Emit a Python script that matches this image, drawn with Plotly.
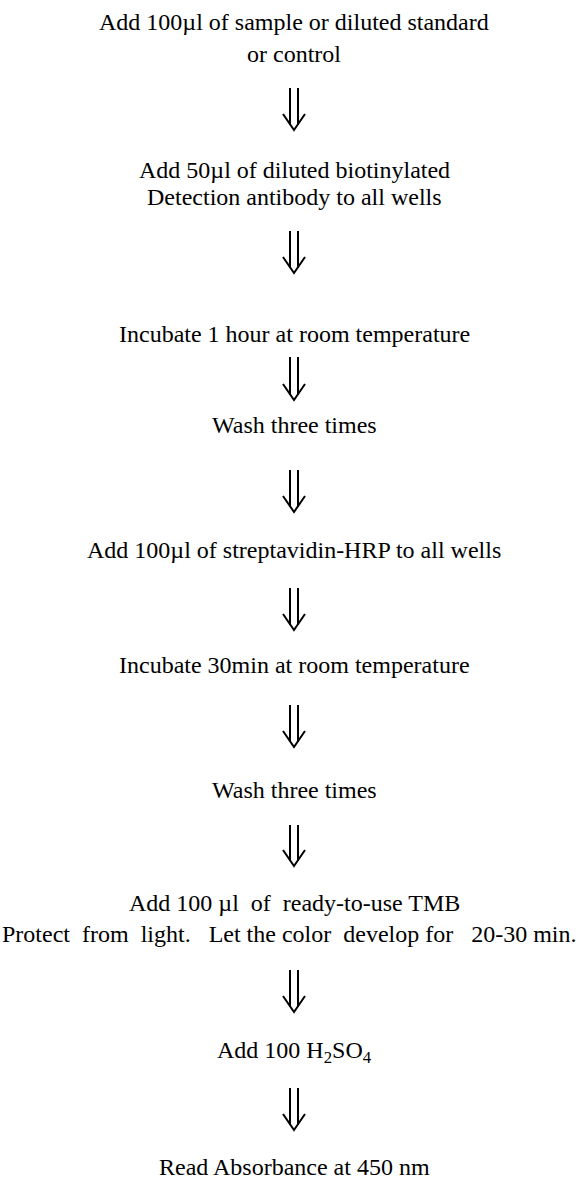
import plotly.graph_objects as go

# Flowchart steps (text lines for each step)
step_lines = [
    ["Add 100µl of sample or diluted standard", "or control"],
    ["Add 50µl of diluted biotinylated", "Detection antibody to all wells"],
    ["Incubate 1 hour at room temperature"],
    ["Wash three times"],
    ["Add 100µl of streptavidin-HRP to all wells"],
    ["Incubate 30min at room temperature"],
    ["Wash three times"],
    ["Add 100\u00a0µl \u00a0of \u00a0ready-to-use TMB",
     "Protect \u00a0from \u00a0light. \u00a0\u00a0Let the color \u00a0develop for \u00a0\u00a020-30 min."],
    ["Add 100 H<sub>2</sub>SO<sub>4</sub>"],
    ["Read Absorbance at 450 nm"],
]

# Layout (pixel positions of the text line centres, arrow top / tip)
W, H = 579, 1182
CX = 294
line_y = [
    [22, 54],
    [170, 197],
    [334],
    [425],
    [550],
    [665],
    [790],
    [903, 934],
    [1052],
    [1167],
]
# horizontal centre overrides for individual lines (step, line) -> x
line_x = {(7, 1): 289.5}
arrow_span = [
    (88, 130), (231, 273), (357, 400), (470, 512), (588, 630),
    (705, 747), (825, 866), (970, 1012), (1088, 1130),
]

FONT = dict(family="Liberation Serif", size=24, color="black")

fig = go.Figure()
annotations = []
for si, (lines, ys) in enumerate(zip(step_lines, line_y)):
    for li, (txt, y) in enumerate(zip(lines, ys)):
        annotations.append(dict(
            x=line_x.get((si, li), CX), y=y, xref="x", yref="y", text=txt,
            showarrow=False, xanchor="center", yanchor="middle", font=FONT,
        ))

shapes = []
for top, tip in arrow_span:
    gap, half, head = 4, 11, 16
    line = dict(color="black", width=2)
    shapes.append(dict(type="line", xref="x", yref="y",
                       x0=CX - gap, x1=CX - gap, y0=top, y1=tip - 5, line=line))
    shapes.append(dict(type="line", xref="x", yref="y",
                       x0=CX + gap, x1=CX + gap, y0=top, y1=tip - 5, line=line))
    shapes.append(dict(type="path", xref="x", yref="y",
                       path=f"M {CX-half} {tip-head} L {CX} {tip} L {CX+half} {tip-head}",
                       line=line))

fig.update_layout(
    width=W, height=H, autosize=False,
    margin=dict(l=0, r=0, t=0, b=0, pad=0),
    paper_bgcolor="white", plot_bgcolor="white",
    xaxis=dict(range=[0, W], visible=False, fixedrange=True),
    yaxis=dict(range=[H, 0], visible=False, fixedrange=True),
    annotations=annotations, shapes=shapes, showlegend=False,
)

fig.write_html("out.html", config={"displayModeBar": False},
               post_script="document.body.style.margin='0';document.body.style.overflow='hidden';")
